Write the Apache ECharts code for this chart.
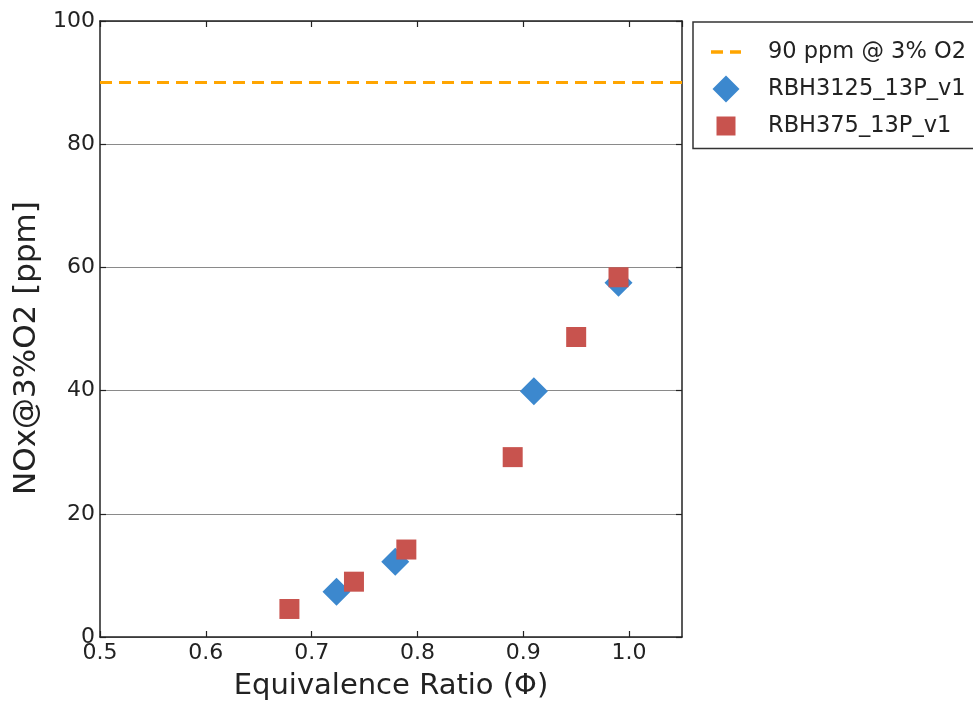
<!DOCTYPE html>
<html><head><meta charset="utf-8">
<script src="https://cdn.jsdelivr.net/npm/echarts@6/dist/echarts.min.js"></script>
<style>html,body{margin:0;padding:0;background:#fff}#c{width:973px;height:706px}</style>
</head><body><div id="c"></div>
<script>
const limitName = '90 ppm @ 3% O2';
const limitValue = 90;
const limitX = [0.5, 1.05];
const series1Name = 'RBH3125_13P_v1';
const series1Phi = [0.7235, 0.779, 0.910, 0.990];
const series1NOx = [7.35, 12.2, 39.9, 57.5];
const series2Name = 'RBH375_13P_v1';
const series2Phi = [0.679, 0.740, 0.7895, 0.890, 0.950, 0.990];
const series2NOx = [4.55, 8.98, 14.2, 29.2, 48.7, 58.4];
const xTicks = [0.5, 0.6, 0.7, 0.8, 0.9, 1.0];
const yTicks = [0, 20, 40, 60, 80, 100];

const FONT = 'DejaVu Sans';
const chart = echarts.init(document.getElementById('c'), null, {renderer: 'canvas'});
const axisLineStyle = {color: '#222', width: 1.5};
const tickStyle = {show: true, inside: true, length: 6, lineStyle: {color: '#222', width: 1.2}};

chart.setOption({
  animation: false,
  backgroundColor: '#fff',
  grid: {left: 100, top: 21, width: 582, height: 617, containLabel: false},
  xAxis: [{
    type: 'value', min: xTicks[0], max: limitX[1], interval: 0.1, position: 'bottom',
    name: 'Equivalence Ratio (Φ)', nameLocation: 'middle', nameGap: 35,
    nameTextStyle: {fontFamily: FONT, fontSize: 29, color: '#222'},
    axisLine: {show: true, onZero: false, lineStyle: axisLineStyle},
    axisTick: tickStyle,
    axisLabel: {fontFamily: FONT, fontSize: 22, color: '#222', margin: 5, showMaxLabel: false,
      formatter: v => xTicks.some(t => Math.abs(t - v) < 1e-9) ? v.toFixed(1) : ''},
    splitLine: {show: false}
  }, {
    type: 'value', min: xTicks[0], max: limitX[1], interval: 0.1, position: 'top',
    axisLine: {show: true, onZero: false, lineStyle: axisLineStyle},
    axisTick: tickStyle, axisLabel: {show: false}, splitLine: {show: false}
  }],
  yAxis: [{
    type: 'value', min: yTicks[0], max: yTicks[yTicks.length - 1], interval: 20, position: 'left',
    name: 'NOx@3%O2 [ppm]', nameLocation: 'middle', nameGap: 54,
    nameTextStyle: {fontFamily: FONT, fontSize: 31, color: '#222', padding: [0, 38, 0, 0]},
    axisLine: {show: true, onZero: false, lineStyle: axisLineStyle},
    axisTick: tickStyle,
    axisLabel: {fontFamily: FONT, fontSize: 22, color: '#222', margin: 5},
    splitLine: {show: true, lineStyle: {color: '#8a8a8a', width: 1.2}}
  }, {
    type: 'value', min: yTicks[0], max: yTicks[yTicks.length - 1], interval: 20, position: 'right',
    axisLine: {show: true, onZero: false, lineStyle: axisLineStyle},
    axisTick: tickStyle, axisLabel: {show: false}, splitLine: {show: false}
  }],
  legend: {
    orient: 'vertical', left: 693, top: 22,
    padding: [16.5, 40, 9, 18],
    itemWidth: 52, itemHeight: 27, itemGap: 10,
    borderColor: '#333', borderWidth: 1.5, backgroundColor: '#fff',
    textStyle: {fontFamily: FONT, fontSize: 22.5, color: '#222'},
    selectedMode: false,
    data: [
      {name: limitName, icon: 'path://M0,0M52,27M0,11.8h12v3.4h-12zM19,11.8h11v3.4h-11z', itemStyle: {color: '#FFA500'}},
      {name: series1Name, icon: 'path://M0,0M52,27M15,0L28.5,13.5L15,27L1.5,13.5Z'},
      {name: series2Name, icon: 'path://M0,0M52,27M5.5,4h19v19h-19z'}
    ]
  },
  series: [{
    name: limitName, type: 'line', xAxisIndex: 0, yAxisIndex: 0,
    data: limitX.map(x => [x, limitValue]), symbol: 'none',
    lineStyle: {color: '#FFA500', width: 3, type: [12, 7]},
    itemStyle: {color: '#FFA500'}, z: 3
  }, {
    name: series1Name, type: 'scatter', xAxisIndex: 0, yAxisIndex: 0,
    data: series1Phi.map((x, i) => [x, series1NOx[i]]),
    symbol: 'diamond', symbolSize: [28, 28],
    itemStyle: {color: '#3C88CE', opacity: 1}, z: 4
  }, {
    name: series2Name, type: 'scatter', xAxisIndex: 0, yAxisIndex: 0,
    data: series2Phi.map((x, i) => [x, series2NOx[i]]),
    symbol: 'rect', symbolSize: 20,
    itemStyle: {color: '#C8534E', opacity: 1}, z: 5
  }]
});
</script></body></html>
